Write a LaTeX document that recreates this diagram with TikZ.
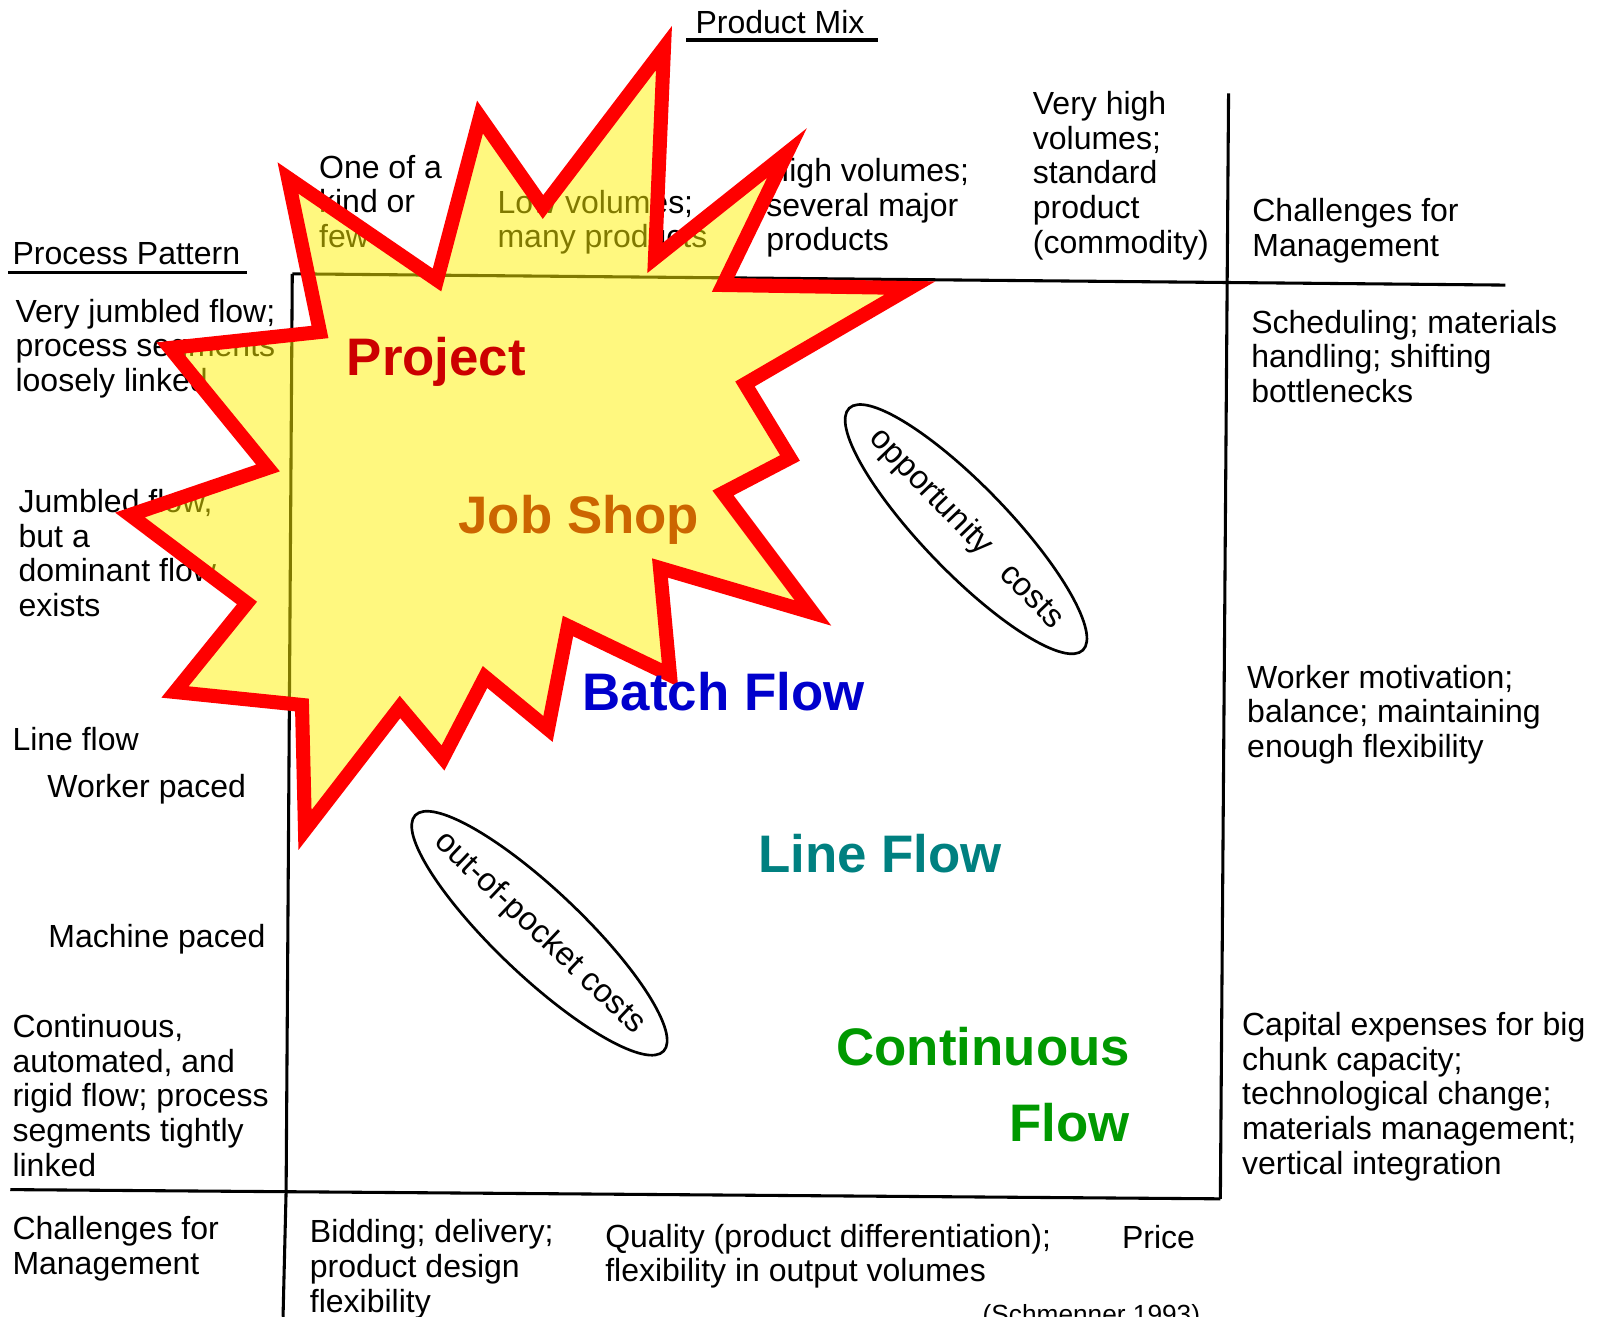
\documentclass[tikz,border=0pt]{standalone}
\usepackage{fontspec}
\setmainfont{Liberation Sans}

\begin{document}
\begin{tikzpicture}[x=1pt,y=-1pt,
  scan/.style={anchor=base west,align=left,inner sep=0pt,font=\fontsize{31.2}{33.7}\selectfont},
  kind/.style={anchor=base west,inner sep=0pt,font=\fontsize{51.5}{60}\selectfont\bfseries},
  rule/.style={line width=3pt},
  costs/.style={inner sep=0pt,font=\fontsize{32}{36}\selectfont},
  ring/.style={line width=2.6pt},
  burst/.style={draw=red,line width=13.7pt,line join=miter,fill=yellow,fill opacity=0.5,draw opacity=1}]
\useasboundingbox (0,0) rectangle (1568,1284);
\definecolor{projred}{HTML}{CC0000}
\definecolor{jobor}{HTML}{CC6600}
\definecolor{batchblue}{HTML}{0000CC}
\definecolor{lineteal}{HTML}{008080}
\definecolor{contgreen}{HTML}{009900}
% headings
\node[scan] (procpattern) at (12,258) {Process Pattern};
\draw[rule] (8,266) -- (241,266);
\node[scan] (prodmix) at (678,32.5) {Product Mix};
\draw[rule] (669,39) -- (856,39);
% column heads
\node[scan] (colone) at (311,241.4) {One of a\\kind or\\few};
\node[scan] (collow) at (485,241.7) {Low volumes;\\many products};
\node[scan] (colhigh) at (747,244.4) {High volumes;\\several major\\products};
\node[scan] (colvery) at (1007,246.8) {Very high\\volumes;\\standard\\product\\(commodity)};
\node[scan] (colchal) at (1221,249.7) {Challenges for\\Management};
% row heads
\node[scan] (rowvery) at (15,381.4) {Very jumbled flow;\\process segments\\loosely linked};
\node[scan] (rowjumb) at (18,601.1) {Jumbled flow,\\but a\\dominant flow\\exists};
\node[scan] (rowline) at (12,732) {Line flow};
\node[scan] (rowworker) at (46,778) {Worker paced};
\node[scan] (rowmachine) at (47,924) {Machine paced};
\node[scan] (rowcont) at (12,1146.8) {Continuous,\\automated, and\\rigid flow; process\\segments tightly\\linked};
\node[scan] (rowchal) at (12,1242.7) {Challenges for\\Management};
% challenges
\node[scan] (chsched) at (1220,392.4) {Scheduling; materials\\handling; shifting\\bottlenecks};
\node[scan] (chworker) at (1216,738.4) {Worker motivation;\\balance; maintaining\\enough flexibility};
\node[scan] (chcapital) at (1211,1144.8) {Capital expenses for big\\chunk capacity;\\technological change;\\materials management;\\vertical integration};
\node[scan] (chbid) at (302,1279.4) {Bidding; delivery;\\product design\\flexibility};
\node[scan] (chquality) at (590,1249.7) {Quality (product differentiation);\\flexibility in output volumes};
\node[scan] (chprice) at (1094,1217) {Price};
\node[anchor=base west,inner sep=0pt,font=\fontsize{25.6}{30}\selectfont] (source) at (958,1291) {(Schmenner 1993)};
% grid
\draw[rule] (285,267) -- (1468,278);
\draw[rule] (285,267) -- (279,1161) -- (276,1284);
\draw[rule] (1198,91) -- (1190,1169);
\draw[rule] (10,1160) -- (1190,1169);
% cost ellipses
\node[costs,rotate=-46] (opp) at (942,516) {opportunity\hspace{0.5em} costs};
\draw[ring,rotate around={-46:(opp)}] (opp) ellipse [x radius=164,y radius=42];
\node[costs,rotate=-43.5] (oop) at (526,910) {out-of-pocket costs};
\draw[ring,rotate around={-43.5:(oop)}] (oop) ellipse [x radius=167,y radius=42];
% burst
\begin{scope}[scale=0.9751]
\draw[burst] (664,48) -- (655,258) -- (787,153) -- (723,285) -- (910,288) -- (745,384)
  -- (790,458) -- (723,493) -- (813,613) -- (660,568) -- (670,675) -- (568,626)
  -- (548,729) -- (485,677) -- (443,758) -- (400,707) -- (305,830) -- (302,705)
  -- (175,692) -- (247,603) -- (130,515) -- (268,468) -- (170,348) -- (320,332)
  -- (288,178) -- (437,280) -- (480,117) -- (543,207) -- cycle;
\end{scope}
% process kinds
\node[kind,text=projred] (project) at (338,366) {Project};
\node[kind,text=jobor] (jobshop) at (447,520) {Job Shop};
\node[kind,text=batchblue] (batch) at (568,692.5) {Batch Flow};
\node[kind,text=lineteal] (line) at (739,851) {Line Flow};
\node[kind,text=contgreen,anchor=base east] (conta) at (1102,1039) {Continuous};
\node[kind,text=contgreen,anchor=base east] (contb) at (1102,1113) {Flow};
\end{tikzpicture}
\end{document}
